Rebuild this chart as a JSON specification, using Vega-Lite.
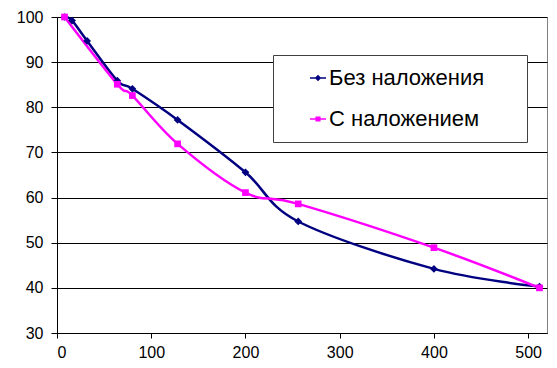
{
  "$schema": "https://vega.github.io/schema/vega-lite/v6.json",
  "width": 490,
  "height": 316,
  "autosize": {"type": "none"},
  "padding": {"left": 57, "top": 17, "right": 10, "bottom": 35},
  "background": "white",
  "config": {
    "font": "Liberation Sans",
    "view": {"stroke": "#808080", "strokeWidth": 1},
    "axis": {
      "labelFont": "Liberation Sans",
      "labelFontSize": 16,
      "labelColor": "black",
      "domainColor": "black",
      "tickColor": "black",
      "tickSize": 6,
      "title": null
    }
  },
  "data": {
    "values": [
      {"x": 8, "y": 100, "s": "Без наложения"},
      {"x": 16, "y": 99.2, "s": "Без наложения"},
      {"x": 32, "y": 94.7, "s": "Без наложения"},
      {"x": 64, "y": 85.9, "s": "Без наложения"},
      {"x": 80, "y": 84.1, "s": "Без наложения"},
      {"x": 128, "y": 77.2, "s": "Без наложения"},
      {"x": 200, "y": 65.6, "s": "Без наложения"},
      {"x": 256, "y": 54.7, "s": "Без наложения"},
      {"x": 400, "y": 44.2, "s": "Без наложения"},
      {"x": 512, "y": 40.3, "s": "Без наложения"},
      {"x": 8, "y": 100, "s": "С наложением"},
      {"x": 64, "y": 85.1, "s": "С наложением"},
      {"x": 80, "y": 82.6, "s": "С наложением"},
      {"x": 128, "y": 71.9, "s": "С наложением"},
      {"x": 200, "y": 61.1, "s": "С наложением"},
      {"x": 256, "y": 58.6, "s": "С наложением"},
      {"x": 400, "y": 48.9, "s": "С наложением"},
      {"x": 512, "y": 40.0, "s": "С наложением"}
    ]
  },
  "encoding": {
    "x": {
      "field": "x", "type": "quantitative",
      "scale": {"domain": [0, 520], "nice": false, "zero": false},
      "axis": {"values": [0, 100, 200, 300, 400, 500], "grid": false, "labelPadding": 6, "tickSize": 5}
    },
    "y": {
      "field": "y", "type": "quantitative",
      "scale": {"domain": [30, 100], "nice": false, "zero": false},
      "axis": {"values": [30, 40, 50, 60, 70, 80, 90, 100], "grid": true, "gridColor": "black", "gridOpacity": 1, "gridWidth": 1, "labelPadding": 8}
    },
    "color": {
      "field": "s", "type": "nominal",
      "scale": {"domain": ["Без наложения", "С наложением"], "range": ["#000080", "#FF00FF"]},
      "legend": {
        "title": null,
        "orient": "none",
        "legendX": 216,
        "legendY": 38,
        "padding": 12,
        "rowPadding": 19,
        "symbolOffset": 22,
        "labelOffset": 0,
        "labelFontSize": 22,
        "labelColor": "black",
        "labelFont": "Liberation Sans",
        "labelLimit": 500,
        "symbolSize": 256,
        "strokeColor": "#404040",
        "fillColor": "white",
        "labelExpr": "datum.label + '\u00a0\u00a0\u00a0\u00a0\u00a0\u200b'",
        "encode": {
          "symbols": {
            "update": {
              "shape": {"signal": "datum.value === 'Без наложения' ? 'M-1,-0.1L1,-0.1L1,0.1L-1,0.1ZM0,-0.4L0.4,0L0,0.4L-0.4,0Z' : 'M-1,-0.1L1,-0.1L1,0.1L-1,0.1ZM-0.32,-0.32L0.32,-0.32L0.32,0.32L-0.32,0.32Z'"},
              "fill": {"signal": "datum.value === 'Без наложения' ? '#000080' : '#FF00FF'"},
              "stroke": {"value": "transparent"},
              "strokeWidth": {"value": 0},
              "opacity": {"value": 1}
            }
          }
        }
      }
    }
  },
  "layer": [
    {
      "mark": {"type": "line", "interpolate": "cardinal", "strokeWidth": 2.5}
    },
    {
      "transform": [{"filter": "datum.s === 'Без наложения'"}],
      "mark": {"type": "point", "filled": true, "opacity": 1, "shape": "diamond", "size": 60}
    },
    {
      "transform": [{"filter": "datum.s === 'С наложением'"}],
      "mark": {"type": "point", "filled": true, "opacity": 1, "shape": "square", "size": 45}
    }
  ]
}
